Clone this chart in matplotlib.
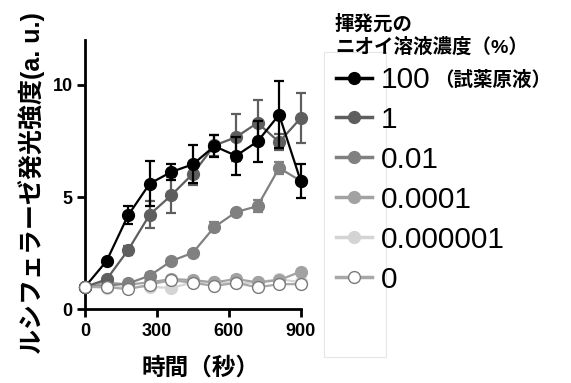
import matplotlib
matplotlib.use("Agg")
import matplotlib.pyplot as plt
from matplotlib.patches import Rectangle

plt.rcParams['font.family'] = ['Liberation Sans', 'Noto Sans CJK JP', 'DejaVu Sans']

# time points (s)
time = [0, 90, 180, 270, 360, 450, 540, 630, 720, 810, 900]

labels = ['100', '1', '0.01', '0.0001', '0.000001', '0']

mean_100 = [1.0, 2.15, 4.19, 5.6, 6.12, 6.46, 7.27, 6.84, 7.48, 8.67, 5.72]
err_100 = [0.0, 0.1, 0.4, 1.0, 0.35, 0.85, 0.5, 0.85, 0.9, 1.5, 0.75]

mean_1 = [1.0, 1.33, 2.64, 4.22, 5.08, 6.04, 7.3, 7.67, 8.31, 7.45, 8.52]
err_1 = [0.0, 0.1, 0.2, 0.6, 0.8, 0.5, 0.45, 1.05, 1.0, 0.35, 1.1]

mean_001 = [1.0, 1.05, 1.15, 1.5, 2.15, 2.52, 3.67, 4.33, 4.6, 6.3, 5.72]
err_001 = [0.0, 0.05, 0.05, 0.1, 0.1, 0.1, 0.2, 0.1, 0.25, 0.25, 0.1]

mean_00001 = [1.0, 1.2, 1.1, 1.2, 1.35, 1.3, 1.2, 1.35, 1.2, 1.3, 1.68]
err_00001 = [0.0, 0.05, 0.05, 0.05, 0.1, 0.15, 0.05, 0.15, 0.05, 0.05, 0.05]

mean_0000001 = [1.0, 0.95, 1.0, 1.0, 0.95, 1.2, 1.2, 1.15, 1.2, 1.35, 1.2]
err_0000001 = [0.0, 0.05, 0.05, 0.05, 0.05, 0.05, 0.05, 0.05, 0.05, 0.05, 0.05]

mean_0 = [1.0, 1.0, 0.89, 1.1, 1.3, 1.18, 1.04, 1.18, 0.98, 1.12, 1.12]
err_0 = [0.0, 0.05, 0.05, 0.05, 0.05, 0.05, 0.05, 0.05, 0.05, 0.05, 0.05]

series = [
    # mean, err, line colour, face colour, edge colour, zorder
    (mean_100, err_100, '#000000', '#000000', '#000000', 6),
    (mean_1, err_1, '#5e5e5e', '#5e5e5e', '#5e5e5e', 5),
    (mean_001, err_001, '#808080', '#808080', '#808080', 4),
    (mean_00001, err_00001, '#a2a2a2', '#a2a2a2', '#a2a2a2', 3),
    (mean_0000001, err_0000001, '#d4d4d4', '#d4d4d4', '#d4d4d4', 2),
    (mean_0, err_0, '#a8a8a8', '#ffffff', '#7a7a7a', 7),
]

fig = plt.figure(figsize=(5.71, 3.83), dpi=100)
W, H = 571, 383
ax = fig.add_axes([85 / W, 1 - 309.3 / H, 215.7 / W, 269.3 / H])

handles = []
for (m, e, lc, fc, ec, z), lab in zip(series, labels):
    ax.errorbar(time, m, yerr=e, fmt='none', ecolor=lc, elinewidth=1.6,
                capsize=3.5, capthick=1.6, zorder=z, clip_on=False)
    ln, = ax.plot(time, m, '-o', color=lc, lw=1.6, ms=8.5, mfc=fc, mec=ec,
                  mew=1.0, zorder=z + 0.5, clip_on=False, label=lab)
    handles.append(ln)

ax.set_xlim(0, 900)
ax.set_ylim(0, 12)
ax.set_xticks([0, 300, 600, 900])
ax.set_yticks([0, 5, 10])
for s in ['top', 'right']:
    ax.spines[s].set_visible(False)
for s in ['left', 'bottom']:
    ax.spines[s].set_linewidth(2)
ax.tick_params(axis='both', direction='out', width=2, length=6)
ax.tick_params(axis='x', labelsize=13, pad=4)
ax.tick_params(axis='y', labelsize=13, pad=3)
for t in ax.get_xticklabels() + ax.get_yticklabels():
    t.set_fontweight('bold')

ax.set_xlabel('時間（秒）', fontsize=17, fontweight='bold', va='center')
ax.xaxis.set_label_coords(0.538, -0.218)
ax.set_ylabel('ルシフェラーゼ発光強度(a. u.)', fontsize=18, fontweight='bold', va='center')
ax.yaxis.set_label_coords(-0.25, 0.47)

# legend box and title
fig.add_artist(Rectangle((324 / W, 1 - 357 / H), 62 / W, 305 / H,
                         transform=fig.transFigure, fill=False,
                         edgecolor='#e6e6e6', lw=0.8))
fig.text(335 / W, 1 - 14 / H, '揮発元の\nニオイ溶液濃度（%）', fontsize=14,
         fontweight='bold', ha='left', va='top', linespacing=1.25)

leg = fig.legend(handles=handles, labels=labels, loc='upper left',
                 bbox_to_anchor=(336 / W, 1 - 66 / H), frameon=False,
                 fontsize=21.5, handlelength=1.2, handletextpad=0.3,
                 labelspacing=0.4, borderpad=0, borderaxespad=0)
for h in leg.legend_handles:
    h.set_markersize(8.5)
    h.set_linewidth(2.5)

fig.canvas.draw()
bb = leg.get_texts()[0].get_window_extent()
fig.text(bb.x1 / (W) + 4 / W, (bb.y0 + bb.y1) / 2 / H, '（試薬原液）', fontsize=14,
         fontweight='bold', ha='left', va='center')

fig.savefig('out.png', dpi=100)
